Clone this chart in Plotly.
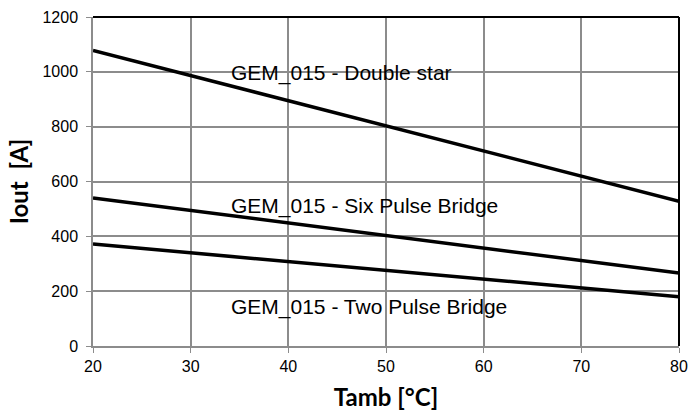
import plotly.graph_objects as go

x_vals = [20, 80]
double_star = [1078, 528]
six_pulse = [540, 266]
two_pulse = [372, 180]

labels = ["GEM_015 - Double star", "GEM_015 - Six Pulse Bridge", "GEM_015 - Two Pulse Bridge"]
label_x = [33.9, 33.9, 33.9]
label_y = [997, 511, 141]

x_ticks = [20, 30, 40, 50, 60, 70, 80]
y_ticks = [0, 200, 400, 600, 800, 1000, 1200]

fig = go.Figure()
for ys in (double_star, six_pulse, two_pulse):
    fig.add_trace(go.Scatter(x=x_vals, y=ys, mode="lines",
                             line=dict(color="black", width=3.5), showlegend=False,
                             hoverinfo="skip"))

for t, lx, ly in zip(labels, label_x, label_y):
    fig.add_annotation(x=lx, y=ly, text=t, showarrow=False, xanchor="left", yanchor="middle",
                       font=dict(family="Liberation Sans, Arial", size=21, color="black"))

# top and right black borders
fig.add_shape(type="line", xref="paper", yref="paper", x0=0, x1=1, y0=1, y1=1,
              line=dict(color="black", width=2))
fig.add_shape(type="line", xref="paper", yref="paper", x0=1, x1=1, y0=0, y1=1,
              line=dict(color="black", width=2))

fig.update_layout(
    width=689, height=412,
    margin=dict(l=93, r=10, t=17, b=66),
    plot_bgcolor="white", paper_bgcolor="white",
    font=dict(family="Liberation Sans, Arial", size=16, color="black"),
    xaxis=dict(range=[20, 80], tickvals=x_ticks, showgrid=True, gridcolor="#8c8c8c", gridwidth=1.5,
               showline=True, linecolor="#8c8c8c", linewidth=1.5, ticks="outside", ticklen=5,
               tickcolor="#8c8c8c", zeroline=False, automargin=False,
               title=dict(text="<b>Tamb [°C]</b>", font=dict(family="Lato, Open Sans", size=24), standoff=15)),
    yaxis=dict(range=[0, 1200], tickvals=y_ticks, showgrid=True, gridcolor="#8c8c8c", gridwidth=1.5,
               showline=True, linecolor="#8c8c8c", linewidth=1.5, ticks="outside", ticklen=5,
               tickcolor="#8c8c8c", zeroline=False, automargin=False, ticklabelstandoff=5,
               title=dict(text="<b>Iout  [A]</b>", font=dict(family="Lato, Open Sans", size=24), standoff=7)),
)

fig.write_html("out.html", config={"displayModeBar": False},
               post_script="document.body.style.margin='0';document.body.style.overflow='hidden';")
